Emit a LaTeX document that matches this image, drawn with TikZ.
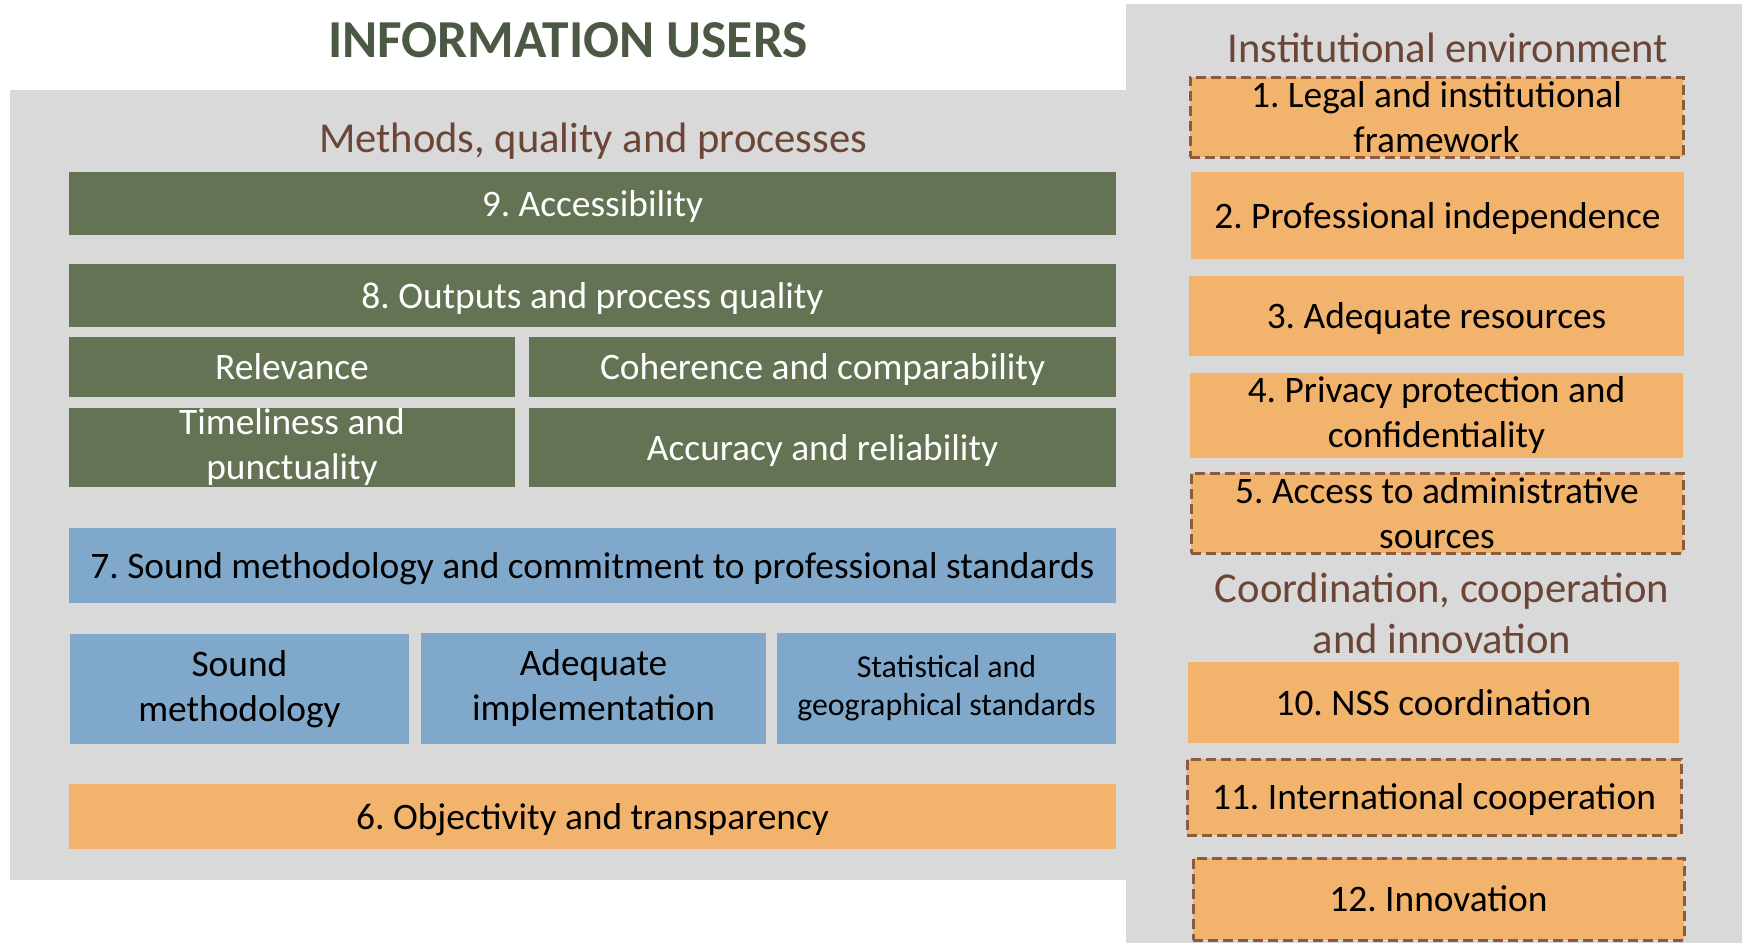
\documentclass[tikz,border=0pt]{standalone}
\usepackage{fontspec}
\setmainfont{Carlito}
\usetikzlibrary{positioning}

\definecolor{boxgreen}{HTML}{637353}
\definecolor{boxblue}{HTML}{7FA8CB}
\definecolor{boxorange}{HTML}{F2B46C}
\definecolor{panelgray}{HTML}{D9D9D9}
\definecolor{titlegreen}{HTML}{4B5843}
\definecolor{headbrown}{HTML}{6B4536}
\definecolor{dashbrown}{HTML}{8C5A3E}

\frenchspacing

\tikzset{
    block/.style = {inner sep = 0pt, align = center, font = \fontsize{37.4}{45}\selectfont},
    oneline/.style = {text depth = 0pt},
    greenblock/.style = {block, fill = boxgreen, text = white},
    blueblock/.style = {block, fill = boxblue, text = black},
    orangeblock/.style = {block, fill = boxorange, text = black},
    dashblock/.style = {orangeblock, draw = dashbrown, line width = 3pt, dash pattern = on 10pt off 5pt},
    heading/.style = {anchor = base, text = headbrown, align = center, font = \fontsize{42.6}{51}\selectfont}
}

\begin{document}
\begin{tikzpicture}[x = 1pt, y = -1pt]

    \useasboundingbox (0,0) rectangle (1742,943);

    % Background panels
    \fill [panelgray] (10,90) rectangle (1126,880);
    \fill [panelgray] (1126,4) rectangle (1742,943);

    % Titles
    \node [anchor = base, text = titlegreen, font = \bfseries\fontsize{53.4}{62}\selectfont] (users) at (568,57) {INFORMATION USERS};
    \node [heading] (methods) at (593,152) {Methods, quality and processes};
    \node [heading] (institutional) at (1448,62) {Institutional environment};
    \node [heading, anchor = north] (coordination) at (1442,569) {Coordination, cooperation\\and innovation};

    % Methods, quality and processes
    \node [greenblock, oneline, minimum width = 1047pt, minimum height = 63pt] (access) at (592.5,203.5) {9. Accessibility};
    \node [greenblock, oneline, minimum width = 1047pt, minimum height = 63pt] (outputs) at (592.5,295.5) {8. Outputs and process quality};
    \node [greenblock, oneline, minimum width = 446pt, minimum height = 60pt] (relevance) at (292,367) {Relevance};
    \node [greenblock, oneline, minimum width = 587pt, minimum height = 60pt] (coherence) at (822.5,367) {Coherence and comparability};
    \node [greenblock, minimum width = 446pt, minimum height = 79pt] (timeliness) at (292,447.5) {Timeliness and\\punctuality};
    \node [greenblock, oneline, minimum width = 587pt, minimum height = 79pt] (accuracy) at (822.5,447.5) {Accuracy and reliability};
    \node [blueblock, oneline, minimum width = 1047pt, minimum height = 75pt] (soundstd) at (592.5,565.5) {7. Sound methodology and commitment to professional standards};
    \node [blueblock, minimum width = 339pt, minimum height = 110pt] (methodology) at (239.5,689) {Sound\\methodology};
    \node [blueblock, minimum width = 345pt, minimum height = 111pt] (implementation) at (593.5,688.5) {Adequate\\implementation};
    \node [blueblock, minimum width = 339pt, minimum height = 111pt, font = \fontsize{31.9}{38}\selectfont] (standards) at (946.5,688.5) {Statistical and\\geographical standards};
    \node [orangeblock, oneline, minimum width = 1047pt, minimum height = 65pt] (objectivity) at (592.5,816.5) {6. Objectivity and transparency};

    % Institutional environment
    \node [dashblock, minimum width = 493pt, minimum height = 80pt] (legal) at (1436.5,117) {1. Legal and institutional\\framework};
    \node [orangeblock, oneline, minimum width = 493pt, minimum height = 87pt] (independence) at (1437.5,215.5) {2. Professional independence};
    \node [orangeblock, oneline, minimum width = 495pt, minimum height = 80pt] (resources) at (1436.5,316) {3. Adequate resources};
    \node [orangeblock, minimum width = 493pt, minimum height = 85pt] (privacy) at (1436.5,415.5) {4. Privacy protection and\\confidentiality};
    \node [dashblock, minimum width = 492pt, minimum height = 80pt] (admin) at (1437,513) {5. Access to administrative\\sources};

    % Coordination, cooperation and innovation
    \node [orangeblock, oneline, minimum width = 491pt, minimum height = 81pt] (nss) at (1433.5,702.5) {10. NSS coordination};
    \node [dashblock, oneline, minimum width = 494pt, minimum height = 76pt] (international) at (1434,797) {11. International cooperation};
    \node [dashblock, oneline, minimum width = 491pt, minimum height = 82pt] (innovation) at (1438.5,899) {12. Innovation};

\end{tikzpicture}
\end{document}
